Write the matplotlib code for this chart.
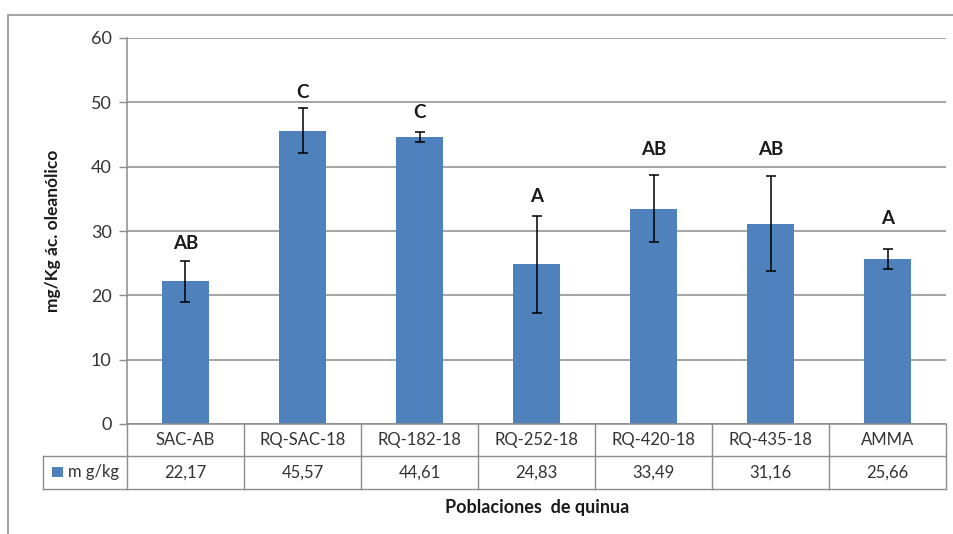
import matplotlib.pyplot as plt
from matplotlib.patches import Rectangle
import numpy as np

# data
poblaciones = ["SAC-AB", "RQ-SAC-18", "RQ-182-18", "RQ-252-18", "RQ-420-18", "RQ-435-18", "AMMA"]
mg_kg = [22.17, 45.57, 44.61, 24.83, 33.49, 31.16, 25.66]
error = [3.2, 3.5, 0.8, 7.5, 5.2, 7.45, 1.5]
letras = ["AB", "C", "C", "A", "AB", "AB", "A"]
letra_y = [28.1, 51.5, 48.4, 35.3, 42.6, 42.6, 32.0]
yticks = [0, 10, 20, 30, 40, 50, 60]

plt.rcParams['font.family'] = ['Lato', 'DejaVu Sans']
grey = '#8c8c8c'
blue = '#4f81bd'
fs = 12

fig = plt.figure(figsize=(9.54, 5.34), dpi=100)
ax = fig.add_axes([127/954, 110/534, 819/954, 386/534])

x = np.arange(len(poblaciones))
ax.bar(x, mg_kg, width=0.4, color=blue, zorder=2)
ax.errorbar(x, mg_kg, yerr=error, fmt='none', ecolor='black', elinewidth=1.1,
            capsize=3.5, capthick=1.1, zorder=3)
for i in range(len(x)):
    ax.text(x[i], letra_y[i], letras[i], ha='center', va='center',
            fontsize=13.5, fontweight='bold', color='#1a1a1a')

ax.set_xlim(-0.5, len(x)-0.5)
ax.set_ylim(0, 60)
ax.set_yticks(yticks)
ax.set_yticklabels([str(t) for t in yticks], fontsize=13, color='#333333')
ax.yaxis.grid(True, color=grey, lw=1.1, zorder=0)
ax.set_xticks([])
ax.tick_params(axis='y', length=6, width=1, color=grey, pad=5)
for s in ['top', 'right', 'bottom']:
    ax.spines[s].set_visible(False)
ax.spines['left'].set_color(grey)
ax.spines['left'].set_linewidth(1.1)

# data table under the axis
tr = ax.get_xaxis_transform()
row1 = -32/386
row2 = -65/386
leg_left = -0.5 - 83.5/117
lw = 1.0
ax.plot([-0.5, len(x)-0.5], [0, 0], transform=tr, color=grey, lw=1.1, clip_on=False)
ax.plot([leg_left, len(x)-0.5], [row1, row1], transform=tr, color=grey, lw=lw, clip_on=False)
ax.plot([leg_left, len(x)-0.5], [row2, row2], transform=tr, color=grey, lw=lw, clip_on=False)
ax.plot([leg_left, leg_left], [row1, row2], transform=tr, color=grey, lw=lw, clip_on=False)
for b in np.arange(-0.5, len(x), 1.0):
    ax.plot([b, b], [0, row2], transform=tr, color=grey, lw=lw, clip_on=False)
for i in range(len(x)):
    ax.text(x[i], row1/2, poblaciones[i], transform=tr, ha='center', va='center',
            fontsize=fs, color='#333333')
    ax.text(x[i], (row1+row2)/2, f"{mg_kg[i]:.2f}".replace('.', ','), transform=tr,
            ha='center', va='center', fontsize=fs, color='#333333')

# legend key in the table
fig.add_artist(Rectangle((52/954, (534-477)/534), 11/954, 10/534, transform=fig.transFigure,
                         facecolor=blue, edgecolor='none'))
fig.text(68/954, (534-472)/534, "m g/kg", ha='left', va='center', fontsize=fs, color='#333333')

fig.text(53/954, (534-231)/534, "mg/Kg ác. oleanólico", rotation=90, ha='center',
         va='center', fontsize=12.5, fontweight='bold', color='#1a1a1a')
fig.text(537/954, (534-507)/534, "Poblaciones  de quinua", ha='center', va='center',
         fontsize=13, fontweight='bold', color='#1a1a1a')

# outer chart frame
fig.add_artist(Rectangle((8/954, -0.05), 1.0, (534-15)/534 + 0.05, transform=fig.transFigure,
                         facecolor='none', edgecolor=grey, lw=1.1))

plt.savefig("out.png", dpi=100)
